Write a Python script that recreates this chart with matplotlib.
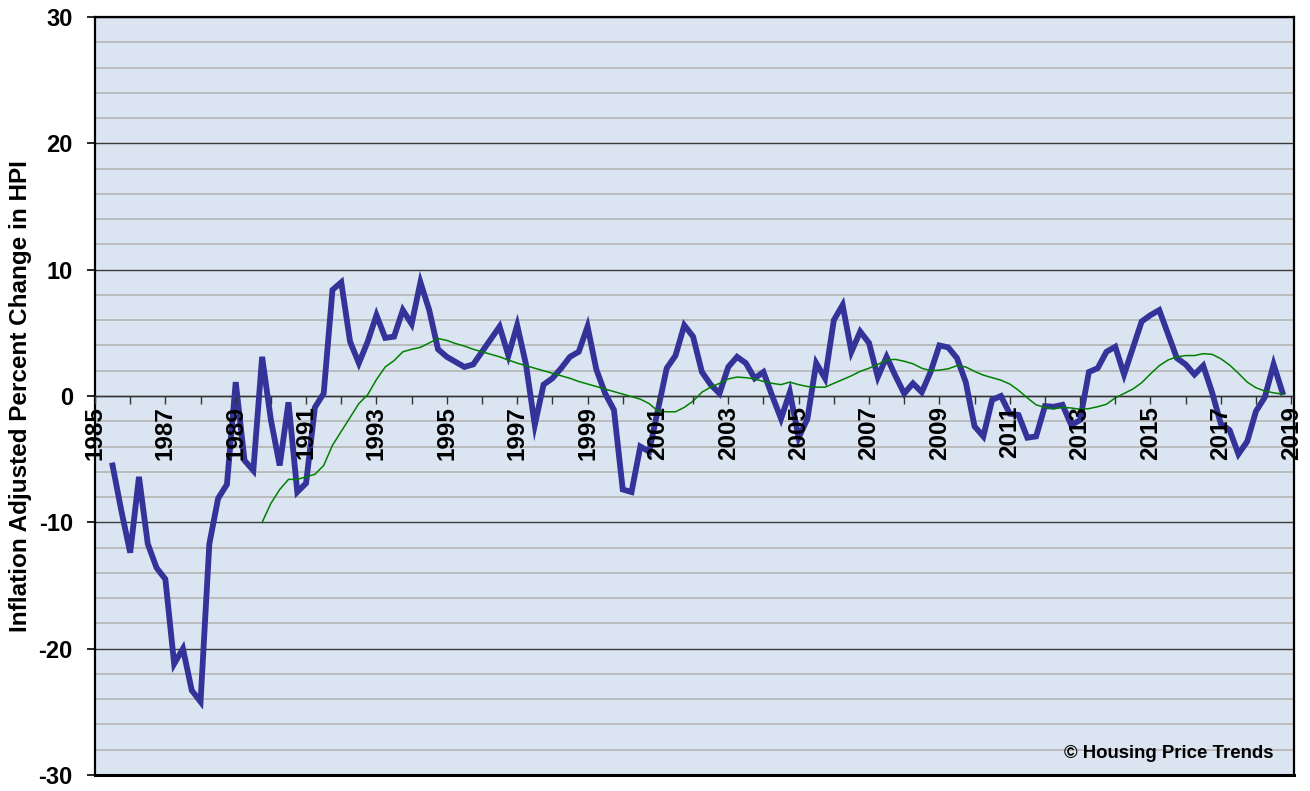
import numpy as np
import matplotlib
matplotlib.use("Agg")
import matplotlib.pyplot as plt
from matplotlib.ticker import MultipleLocator

plt.rcParams['font.family'] = ['Liberation Sans', 'DejaVu Sans']
plt.rcParams['axes.unicode_minus'] = False

# quarterly data, first quarter at 1985.5
start_year = 1985.5
hpi_change = [
    -5.5, -9.1, -12.4, -6.4, -11.7, -13.6, -14.5, -21.2, -20.0, -23.3,
    -24.2, -11.7, -8.1, -7.0, 1.1, -5.1, -5.9, 3.1, -1.9, -5.5,
    -0.5, -7.6, -6.9, -0.9, 0.2, 8.4, 9.0, 4.3, 2.6, 4.3,
    6.4, 4.6, 4.7, 6.8, 5.7, 9.0, 6.8, 3.7, 3.1, 2.7,
    2.3, 2.5, 3.5, 4.5, 5.5, 3.2, 5.6, 2.5, -2.3, 0.9,
    1.4, 2.2, 3.1, 3.5, 5.5, 2.1, 0.2, -1.1, -7.4, -7.6,
    -4.0, -4.4, -1.1, 2.2, 3.2, 5.6, 4.7, 1.9, 0.9, 0.2,
    2.3, 3.1, 2.6, 1.4, 1.9, 0.0, -1.8, 0.3, -3.3, -1.8,
    2.6, 1.4, 6.0, 7.2, 3.5, 5.1, 4.2, 1.5, 3.1, 1.6,
    0.2, 1.0, 0.3, 1.9, 4.0, 3.85, 3.0, 1.1, -2.4, -3.2,
    -0.3, 0.0, -1.4, -1.5, -3.3, -3.2, -0.8, -0.85, -0.7, -2.3,
    -1.9, 1.9, 2.2, 3.5, 3.9, 1.7, 3.8, 5.9, 6.4, 6.8,
    4.9, 3.0, 2.5, 1.7, 2.4, 0.3, -2.2, -2.7, -4.6, -3.6,
    -1.2, -0.1, 2.5, 0.3,
]

# moving average line, first quarter at 1989.75
avg_start_year = 1989.75
hpi_avg = [
    -10.0, -8.5, -7.4, -6.6, -6.6, -6.4, -6.2, -5.5, -3.9, -2.8,
    -1.7, -0.6, 0.1, 1.3, 2.3, 2.8, 3.5, 3.7, 3.85, 4.2,
    4.55, 4.4, 4.15, 3.95, 3.7, 3.5, 3.3, 3.1, 2.85, 2.6,
    2.4, 2.2, 2.0, 1.8, 1.6, 1.4, 1.15, 0.95, 0.75, 0.55,
    0.35, 0.15, -0.05, -0.25, -0.6, -1.2, -1.25, -1.25, -0.9, -0.4,
    0.3, 0.7, 1.0, 1.35, 1.5, 1.45, 1.35, 1.15, 1.0, 0.9,
    1.1, 0.9, 0.75, 0.7, 0.7, 1.0, 1.3, 1.6, 1.95, 2.2,
    2.5, 2.85, 2.9, 2.75, 2.55, 2.2, 2.0, 2.05, 2.15, 2.4,
    2.3, 1.95, 1.65, 1.45, 1.25, 0.95, 0.45, -0.15, -0.7, -0.9,
    -1.0, -0.9, -0.95, -1.05, -1.0, -0.85, -0.65, -0.15, 0.2, 0.55,
    1.05, 1.75, 2.4, 2.85, 3.1, 3.2, 3.2, 3.35, 3.3, 2.95,
    2.45, 1.8, 1.1, 0.65, 0.4, 0.25, 0.15,
]

year_labels = list(range(1985, 2020, 2))

x_hpi = start_year + 0.25 * np.arange(len(hpi_change))
x_avg = avg_start_year + 0.25 * np.arange(len(hpi_avg))

fig = plt.figure(figsize=(13.1, 7.91), dpi=100)
ax = fig.add_axes([95 / 1310, 1 - 775 / 791, (1294 - 95) / 1310, (775 - 17) / 791])
ax.set_facecolor('#dbe5f1')

ax.plot(x_hpi, hpi_change, color='#333399', lw=4.2, solid_joinstyle='miter', zorder=3)
ax.plot(x_avg, hpi_avg, color='#008000', lw=1.1, zorder=3)

ax.set_xlim(1985, 2019.08)
ax.set_ylim(-30, 30)

# y grid
ax.yaxis.set_major_locator(MultipleLocator(10))
ax.yaxis.set_minor_locator(MultipleLocator(2))
ax.grid(axis='y', which='minor', color='#b8b8b8', lw=1.3)
ax.grid(axis='y', which='major', color='#3a3a3a', lw=1.0)
ax.set_axisbelow(True)
ax.tick_params(axis='y', which='major', direction='out', length=6, width=1.2, pad=10,
               labelsize=17)
ax.tick_params(axis='y', which='minor', length=0)
for lab in ax.get_yticklabels():
    lab.set_fontweight('bold')

# x axis sits on zero
ax.spines['bottom'].set_position(('data', 0))
ax.spines['bottom'].set_linewidth(1.0)
ax.spines['bottom'].set_color('#333333')
ax.set_xticks(year_labels)
ax.set_xticklabels([str(y) for y in year_labels], rotation=90, fontsize=17.5,
                   fontweight='bold', va='top')
ax.xaxis.set_minor_locator(MultipleLocator(1))
ax.tick_params(axis='x', which='both', direction='out', length=6, width=1.0,
               color='#333333', pad=1)
ax.xaxis.set_zorder(5)

for side in ['left', 'right', 'top']:
    ax.spines[side].set_linewidth(1.6)
    ax.spines[side].set_color('black')
ax.plot([0, 1], [0, 0], transform=ax.transAxes, color='black', lw=2.2, clip_on=False, zorder=6)

ax.set_ylabel('Inflation Adjusted Percent Change in HPI', fontsize=17.5, fontweight='bold')
ax.yaxis.set_label_coords(-0.0525, 0.5)

ax.text(0.983, 0.028, '\u00a9 Housing Price Trends', transform=ax.transAxes, ha='right',
        va='center', fontsize=13.4, fontweight='bold', zorder=7)

fig.savefig('out.png', dpi=100)
